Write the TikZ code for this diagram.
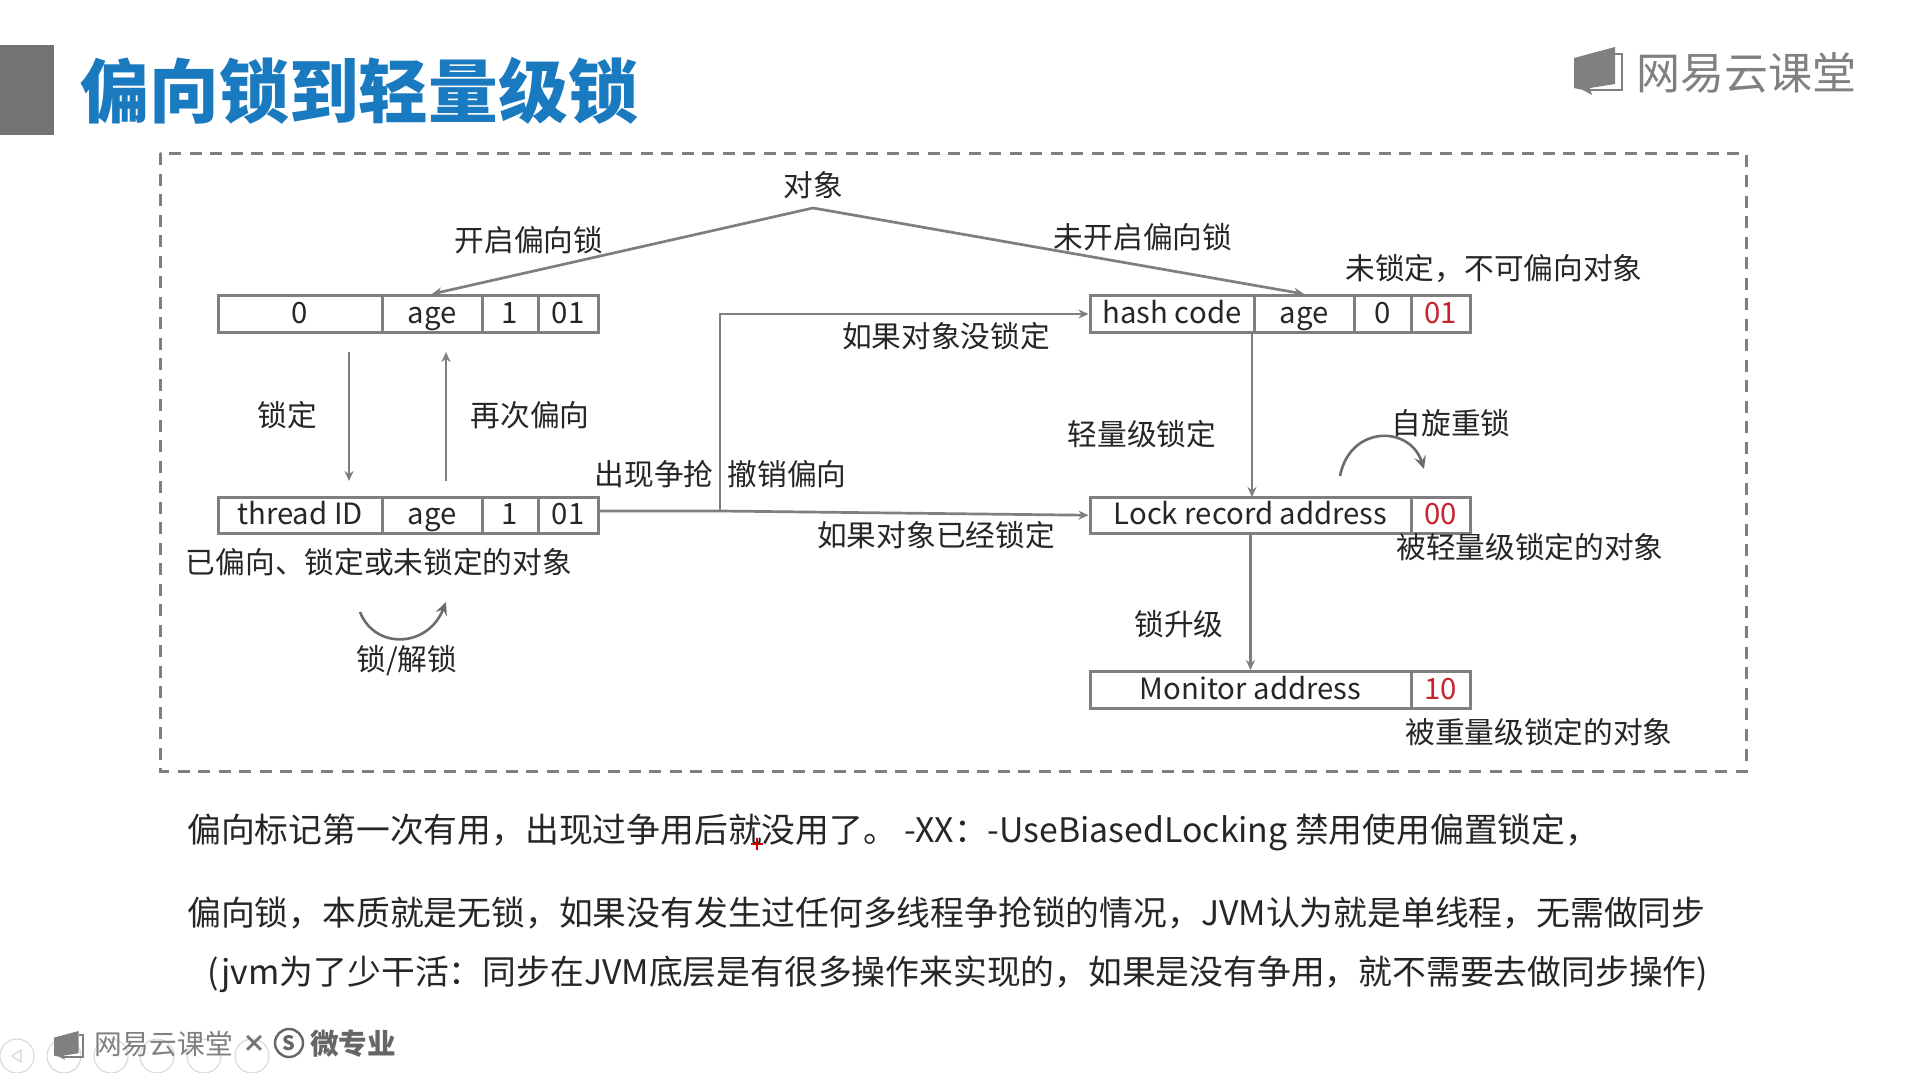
\documentclass[tikz,border=0pt]{standalone}
\usepackage{fontspec}
\setmainfont{Noto Sans CJK SC}
\usetikzlibrary{arrows.meta}
\definecolor{linegray}{HTML}{7F7F7F}
\definecolor{titleblue}{HTML}{1A7ABF}
\definecolor{txt}{HTML}{262626}
\definecolor{redbit}{HTML}{C8232C}
\newcommand{\fsize}[1]{\fontsize{#1}{#1}\selectfont}
\tikzset{
  cellbox/.style={draw=linegray,line width=3pt,inner sep=0pt,text=txt,font=\fsize{29.3},text height=23pt,text depth=4pt},
  lab/.style={inner sep=0pt,text=txt,font=\fsize{29.7},xshift=1pt},
  body/.style={inner sep=0pt,anchor=west,text=txt,font=\fsize{33.8}},
  conn/.style={draw=linegray,line width=2.7pt,-{Stealth[length=10pt,width=9pt]}},
  curve/.style={draw=linegray!85!black,line width=2.6pt,-{Stealth[length=13pt,width=12pt,inset=5pt]}},
  logotxt/.style={inner sep=0pt,text=black!50,anchor=west},
  uicircle/.style={draw=black!16,line width=1pt,fill=none,minimum size=34pt,inner sep=0pt,circle}
}
\newcommand{\cellnode}[6]{\node[cellbox,minimum width=(#3-#2)*1pt,minimum height=(#5-#4)*1pt] (#1) at ({(#2+#3)/2},{(#4+#5)/2}) {#6};}
\newcommand{\bookicon}[3]{\begin{scope}[shift={(#1,#2)},scale=#3]
  \fill[black!50] (0,11) -- (41,0) -- (41,37) -- (16,41) -- (18,48) -- (9,43) -- (0,41) -- cycle;
  \draw[black!50,line width=2.2pt] (41,7) -- (48,7) -- (48,43) -- (16,43);
\end{scope}}
\begin{document}
\begin{tikzpicture}[x=1pt,y=-1pt]
\useasboundingbox (0,0) rectangle (1907,1073);
\fill[white] (0,0) rectangle (1907,1073);
% header
\fill[black!55] (0,45) rectangle (54,135);
\node[inner sep=0pt,anchor=west,text=titleblue,font=\fsize{69.7}\bfseries] (title) at (80,91) {偏向锁到轻量级锁};
\bookicon{1574}{47}{1}
\node[logotxt,font=\fsize{44}] (logo) at (1636,73) {网易云课堂};
% frame
\draw[linegray,line width=3pt,dash pattern=on 12pt off 8.5pt] (160,153) rectangle (1746,771);
% record cells
\cellnode{bz}{218}{382}{295.5}{332.5}{0}
\cellnode{bage}{382}{482}{295.5}{332.5}{age}
\cellnode{bone}{482}{538}{295.5}{332.5}{1}
\cellnode{bflag}{538}{598}{295.5}{332.5}{01}
\cellnode{tid}{218}{382}{497}{533}{thread ID}
\cellnode{tage}{382}{482}{497}{533}{age}
\cellnode{tone}{482}{538}{497}{533}{1}
\cellnode{tflag}{538}{598}{497}{533}{01}
\cellnode{hc}{1090}{1254}{295.5}{332.5}{hash code}
\cellnode{hage}{1254}{1354}{295.5}{332.5}{age}
\cellnode{hz}{1354}{1411}{295.5}{332.5}{0}
\cellnode{hflag}{1411}{1470}{295.5}{332.5}{\textcolor{redbit}{01}}
\cellnode{lr}{1090}{1411}{497}{533.5}{Lock record address}
\cellnode{lflag}{1411}{1470}{497}{533.5}{\textcolor{redbit}{00}}
\cellnode{mon}{1090}{1411}{671.5}{708.5}{Monitor address}
\cellnode{mflag}{1411}{1470}{671.5}{708.5}{\textcolor{redbit}{10}}
% labels
\node[lab] (obj) at (812,185) {对象};
\coordinate (apex) at (813,208);
\node[lab] at (528,240) {开启偏向锁};
\node[lab] at (1142,237) {未开启偏向锁};
\node[lab] at (1493,269) {未锁定，不可偏向对象};
\node[lab] at (945,336) {如果对象没锁定};
\node[lab] at (1141,434) {轻量级锁定};
\node[lab] at (1450,423) {自旋重锁};
\node[lab] at (286,415) {锁定};
\node[lab] at (529,415) {再次偏向};
\node[lab] at (653,474) {出现争抢};
\node[lab] at (786,474) {撤销偏向};
\node[lab] at (935,535) {如果对象已经锁定};
\node[lab] at (1529,547) {被轻量级锁定的对象};
\node[lab] at (378,562) {已偏向、锁定或未锁定的对象};
\node[lab] at (406,661) {锁/解锁};
\node[lab] at (1178,624) {锁升级};
\node[lab] at (1538,732) {被重量级锁定的对象};
% connectors
\draw[conn] (apex) -- (bage.north);
\draw[conn] (apex) -- (hage.north);
\coordinate (lockdn1) at (349,352);
\coordinate (lockdn2) at (349,481);
\coordinate (rebias1) at (446,481);
\coordinate (rebias2) at (446,352);
\draw[conn] (lockdn1) -- (lockdn2);
\draw[conn] (rebias1) -- (rebias2);
\coordinate (branch) at (720,511);
\coordinate (tout) at (598,511);
\draw[conn] (tout) -- (branch) -- (lr.west);
\draw[conn] (branch) -- (720,314) -- (hc.west);
\coordinate (hcdown) at (1252,333);
\draw[conn] (hcdown) -- (1252,497);
\draw[conn] (lr.south) -- (mon.north);
% curved arrows
\coordinate (spinA) at (1340,476);
\coordinate (spinB) at (1424,469);
\draw[curve] (spinA) .. controls (1350,425) and (1410,425) .. (spinB);
\coordinate (tlA) at (360,612);
\coordinate (tlB) at (446,602);
\draw[curve] (tlA) .. controls (375,650) and (428,648) .. (tlB);
% body text
\node[body] (l1) at (187,832) {偏向标记第一次有用，出现过争用后就没用了。\ -XX：-UseBiasedLocking 禁用使用偏置锁定，};
\node[body] (l2) at (187,913) {偏向锁，本质就是无锁，如果没有发生过任何多线程争抢锁的情况，JVM认为就是单线程，无需做同步};
\node[body] (l3) at (207,974) {(jvm为了少干活：同步在JVM底层是有很多操作来实现的，如果是没有争用，就不需要去做同步操作)};
% cursor mark
\draw[red!80!black,line width=1.6pt] (751,844) -- (763,844) (757,838) -- (757,850);
% footer
\foreach \cx/\nm in {17/ua,64/ub,111/uc,157/ud,204/ue,252/uf}
  \node[uicircle] (\nm) at (\cx,1056) {};
\draw[black!16,line width=1.2pt] (21,1050) -- (12,1056) -- (21,1062) -- cycle;
\bookicon{54}{1031}{0.6}
\node[logotxt,font=\fsize{27.7}] (flogo) at (94,1044) {网易云课堂};
\node[inner sep=0pt,text=black!55,font=\fsize{24}\bfseries] (times) at (254,1044) {×};
\node[circle,draw=black!60,line width=2.4pt,inner sep=0pt,minimum size=28pt,text=black!60,font=\fsize{20}\bfseries] (scirc) at (289,1043) {S};
\node[inner sep=0pt,anchor=west,text=black!60,font=\fsize{28.6}\bfseries] (wzy) at (310,1044) {微专业};
\end{tikzpicture}
\end{document}
